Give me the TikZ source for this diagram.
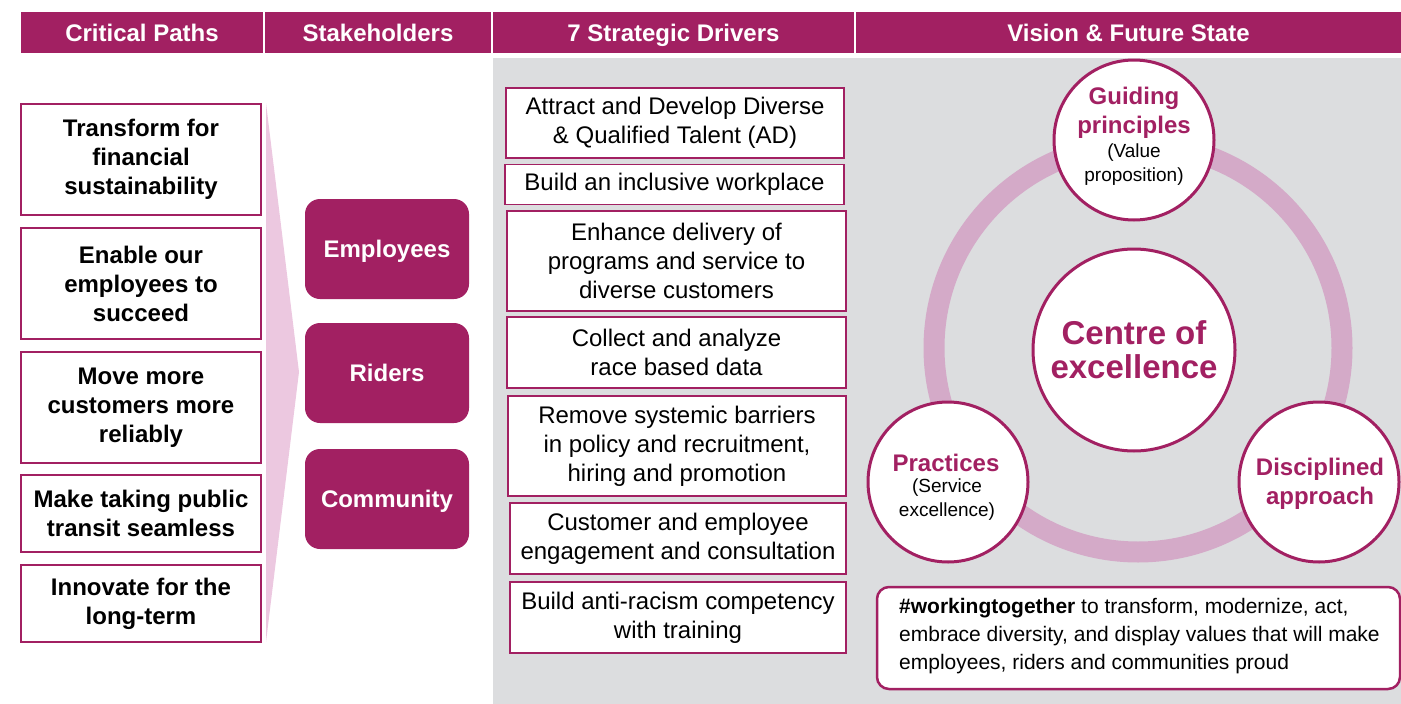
\documentclass[tikz,border=0pt]{standalone}
\usepackage{fontspec}
\setmainfont{Liberation Sans}
\definecolor{mag}{RGB}{162,32,98}
\definecolor{greybg}{RGB}{220,221,223}
\definecolor{pinkarrow}{RGB}{236,200,224}
\definecolor{ringc}{RGB}{212,170,200}
\tikzset{
  hdr/.style={fill=mag, text=white, inner sep=0pt, minimum height=41pt, text height=17pt, text depth=0pt, font=\fontsize{24}{28}\selectfont\bfseries},
  pathbox/.style={draw=mag, line width=1.5pt, fill=white, inner sep=0pt, minimum width=240pt, align=center, font=\fontsize{24}{29}\selectfont\bfseries},
  stake/.style={fill=mag, rounded corners=15pt, text=white, inner sep=0pt, minimum width=164pt, minimum height=100pt, text height=17pt, text depth=0pt, font=\fontsize{24}{29}\selectfont\bfseries},
  drvbox/.style={draw=mag, line width=1.3pt, fill=white, inner sep=0pt, align=center, font=\fontsize{24}{29}\selectfont},
  circ/.style={circle, draw=mag, line width=3pt, fill=white, inner sep=0pt},
  ctitle/.style={text=mag, align=center, inner sep=0pt, font=\fontsize{24}{29}\selectfont\bfseries},
  csub/.style={text=black, align=center, inner sep=0pt, font=\fontsize{19}{24}\selectfont},
}
\begin{document}
\begin{tikzpicture}[x=1pt,y=-1pt]
\useasboundingbox (0,0) rectangle (1401,704);
\fill[greybg] (493,58) rectangle (1401,704);

% header
\node[hdr, minimum width=242pt] (h1) at (142,32.5) {Critical Paths};
\node[hdr, minimum width=226pt] (h2) at (378,32.5) {Stakeholders};
\node[hdr, minimum width=361pt] (h3) at (673.5,32.5) {7 Strategic Drivers};
\node[hdr, minimum width=545pt] (h4) at (1128.5,32.5) {Vision \& Future State};

% pink arrow
\fill[pinkarrow] (266,103) -- (299,372) -- (266,642) -- cycle;

% critical paths
\node[pathbox, minimum height=111pt] (p1) at (141,159.5) {Transform for\\financial\\sustainability};
\node[pathbox, minimum height=111pt] (p2) at (141,283.5) {Enable our\\employees to\\succeed};
\node[pathbox, minimum height=111pt] (p3) at (141,407.5) {Move more\\customers more\\reliably};
\node[pathbox, minimum height=77pt] (p4) at (141,513.5) {Make taking public\\transit seamless};
\node[pathbox, minimum height=77pt] (p5) at (141,603.5) {Innovate for the\\long-term};

% stakeholders
\node[stake] (s1) at (387,249) {Employees};
\node[stake] (s2) at (387,373) {Riders};
\node[stake] (s3) at (387,499) {Community};

% drivers
\node[drvbox, minimum width=338pt, minimum height=70pt] (d1) at (675,123) {Attract and Develop Diverse\\\& Qualified Talent (AD)};
\node[drvbox, minimum width=339pt, minimum height=40pt] (d2) at (674.5,184.5) {Build an inclusive workplace};
\node[drvbox, minimum width=339pt, minimum height=100pt] (d3) at (676.5,261) {Enhance delivery of\\programs and service to\\diverse customers};
\node[drvbox, minimum width=339pt, minimum height=71pt] (d4) at (676.5,352.5) {Collect and analyze\\race based data};
\node[drvbox, minimum width=338pt, minimum height=100pt] (d5) at (677,446) {Remove systemic barriers\\in policy and recruitment,\\hiring and promotion};
\node[drvbox, minimum width=336pt, minimum height=71pt] (d6) at (678,538.5) {Customer and employee\\engagement and consultation};
\node[drvbox, minimum width=336pt, minimum height=71pt] (d7) at (678,617.5) {Build anti-racism competency\\with training};

% ring
\coordinate (rc) at (1138,348);
\draw[ringc, line width=21pt] (rc) circle[radius=204pt];

% circles
\node[circ, minimum size=202pt] (c0) at (1134,350) {};
\node[text=mag, align=center, inner sep=0pt, font=\fontsize{33}{34}\selectfont\bfseries] (c0t) at (c0.center) {Centre of\\excellence};

\node[circ, minimum size=160pt] (cg) at (1134,140) {};
\node[ctitle] (cgt) at (1134,113) {Guiding\\principles};
\node[csub] (cgs) at (1134,165) {(Value\\proposition)};

\node[circ, minimum size=160pt] (cp) at (948,482) {};
\node[ctitle] (cpt) at (946,463) {Practices};
\node[csub] (cps) at (947,500) {(Service\\excellence)};

\node[circ, minimum size=160pt] (cd) at (1319,482) {};
\node[ctitle] (cdt) at (1320,484) {Disciplined\\approach};

% bottom box
\node[draw=mag, line width=2.5pt, fill=white, rounded corners=12pt, minimum width=523pt, minimum height=102pt, inner sep=0pt] (bb) at (1138.5,638) {};
\node[anchor=west, align=left, inner sep=0pt, font=\fontsize{21}{28}\selectfont] (bt) at (899,636) {\textbf{\#workingtogether} to transform, modernize, act,\\embrace diversity, and display values that will make\\employees, riders and communities proud};
\end{tikzpicture}
\end{document}
